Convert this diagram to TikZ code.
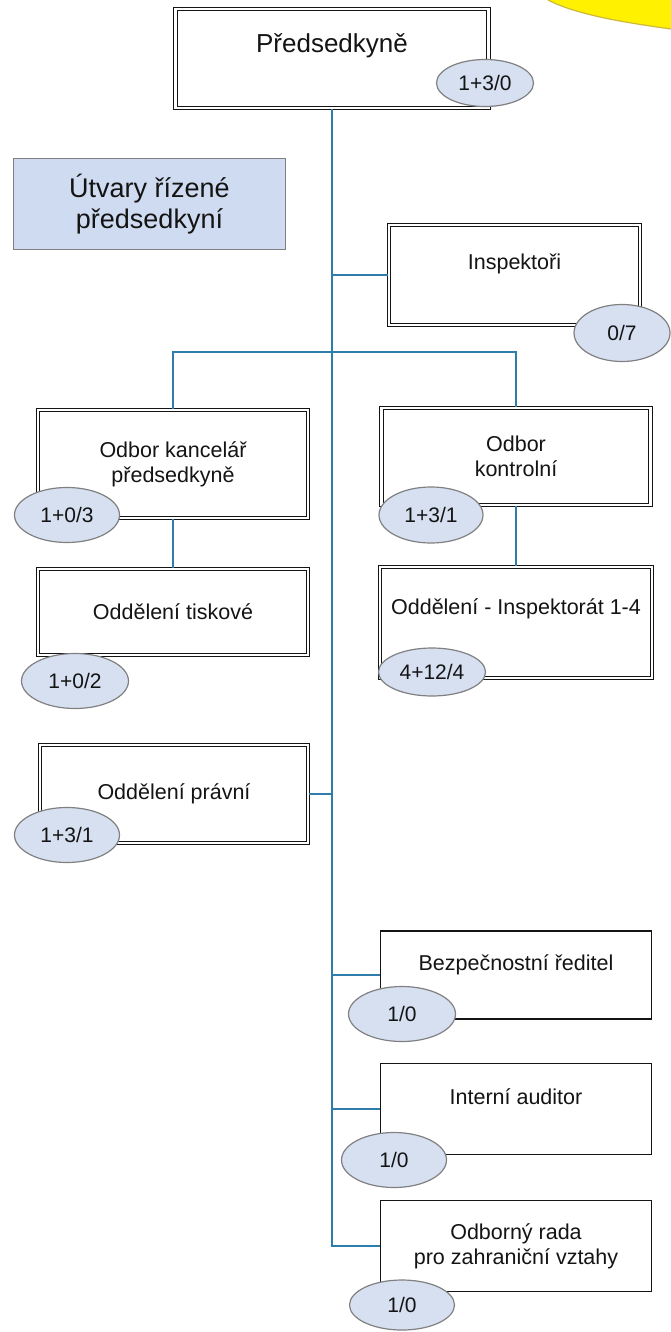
\documentclass[tikz,border=0pt]{standalone}
\usepackage{fontspec}
\setmainfont{Liberation Sans}
\usetikzlibrary{shapes.geometric, positioning}

\definecolor{linkblue}{RGB}{46,125,170}
\definecolor{ovalfill}{RGB}{214,224,241}
\definecolor{ovaledge}{RGB}{128,128,128}
\definecolor{notefill}{RGB}{207,219,240}
\definecolor{sunyellow}{RGB}{255,241,0}
\definecolor{sunedge}{RGB}{205,185,60}
\definecolor{inkgray}{RGB}{20,20,20}

\begin{document}
\begin{tikzpicture}[x=1pt, y=-1pt,
    dbox/.style={rectangle, draw=inkgray, line width=1.2pt, double, double distance=2.2pt,
        fill=white, inner sep=2pt, align=center, text=inkgray,
        font=\fontsize{21.5}{25}\selectfont},
    sbox/.style={rectangle, draw=inkgray, line width=1.4pt, fill=white, inner sep=2pt,
        align=center, text=inkgray, font=\fontsize{21.5}{25}\selectfont},
    count/.style={ellipse, draw=ovaledge, line width=1.2pt, fill=ovalfill, inner sep=0pt,
        text=inkgray, font=\fontsize{21}{25}\selectfont},
    link/.style={draw=linkblue, line width=1.6pt},
    textup/.style={text height=16pt, text depth=#1}]
    \useasboundingbox (0,0) rectangle (671,1332);

    % yellow corner
    \fill[sunyellow] (548,0) .. controls (575,14) and (620,22) .. (671,29) -- (671,0) -- cycle;
    \draw[sunedge, line width=1.2pt] (548,0) .. controls (575,14) and (620,22) .. (671,29);

    % Units
    \node[dbox, minimum width=313pt, minimum height=99pt, text height=19pt, text depth=30pt,
        font=\fontsize{26}{30}\selectfont] (pred) at (332,58.5) {Předsedkyně};
    \node[rectangle, draw=ovaledge, line width=1.2pt, fill=notefill, minimum width=272pt,
        minimum height=91pt, align=center, text=inkgray, font=\fontsize{27}{31}\selectfont]
        (utvary) at (149.5,204) {Útvary řízené\\předsedkyní};
    \node[dbox, minimum width=251pt, minimum height=100pt, textup=27.6pt] (insp) at (514.5,275) {Inspektoři};
    \node[dbox, minimum width=270pt, minimum height=108pt] (kanc) at (173,464) {Odbor kancelář\\předsedkyně};
    \node[dbox, minimum width=269pt, minimum height=97pt] (kontr) at (516,456.5) {Odbor\\kontrolní};
    \node[dbox, minimum width=270pt, minimum height=86pt] (tisk) at (173,612) {Oddělení tiskové};
    \node[dbox, minimum width=272pt, minimum height=111pt, textup=32.6pt] (inspk) at (516,622.5) {Oddělení - Inspektorát 1-4};
    \node[dbox, minimum width=268pt, minimum height=98pt] (pravni) at (174,794) {Oddělení právní};
    \node[sbox, minimum width=271pt, minimum height=88pt, textup=24.6pt] (bezp) at (516,975) {Bezpečnostní ředitel};
    \node[sbox, minimum width=271pt, minimum height=91pt, textup=25.6pt] (inter) at (516,1109) {Interní auditor};
    \node[sbox, minimum width=271pt, minimum height=91pt] (odb) at (516,1246) {Odborný rada\\pro zahraniční vztahy};

    % Staff counts
    \node[count, minimum width=97pt, minimum height=47pt] (pred-n) at (485,83) {1+3/0};
    \node[count, minimum width=96pt, minimum height=57pt] (insp-n) at (622,333) {0/7};
    \node[count, minimum width=105pt, minimum height=55pt] (kanc-n) at (67,515) {1+0/3};
    \node[count, minimum width=104pt, minimum height=56pt] (kontr-n) at (431,515) {1+3/1};
    \node[count, minimum width=107pt, minimum height=55pt] (tisk-n) at (75,681) {1+0/2};
    \node[count, minimum width=107pt, minimum height=48pt] (inspk-n) at (432,672) {4+12/4};
    \node[count, minimum width=105pt, minimum height=55pt] (pravni-n) at (67,835) {1+3/1};
    \node[count, minimum width=107pt, minimum height=55pt] (bezp-n) at (402,1014) {1/0};
    \node[count, minimum width=105pt, minimum height=55pt] (inter-n) at (394,1160) {1/0};
    \node[count, minimum width=105pt, minimum height=50pt] (odb-n) at (402,1305) {1/0};

    % Links
    \coordinate (bar) at (332,352);
    \draw[link] (pred.south) |- (odb.west);
    \draw[link] (insp.west) -- (insp.west -| pred.south);
    \draw[link] (kanc.north) |- (bar) -| (kontr.north);
    \draw[link] (kanc.south) -- (tisk.north);
    \draw[link] (kontr.south) -- (inspk.north);
    \draw[link] (pravni.east) -- (pravni.east -| pred.south);
    \draw[link] (bezp.west) -- (bezp.west -| pred.south);
    \draw[link] (inter.west) -- (inter.west -| pred.south);
\end{tikzpicture}
\end{document}
